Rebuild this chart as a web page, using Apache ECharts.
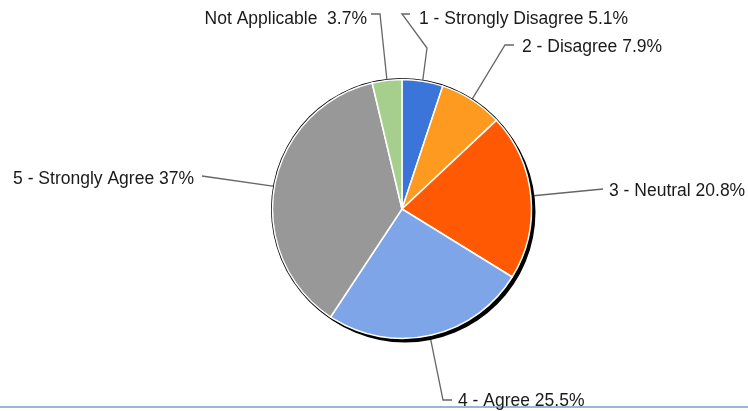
<!DOCTYPE html>
<html>
<head>
<meta charset="utf-8">
<script src="https://cdn.jsdelivr.net/npm/echarts@6/dist/echarts.min.js"></script>
<style>
  html, body { margin: 0; padding: 0; background: #fff; }
  #main { width: 748px; height: 411px; }
</style>
</head>
<body>
<div id="main"></div>
<script>
var categories = ['1 - Strongly Disagree', '2 - Disagree', '3 - Neutral', '4 - Agree', '5 - Strongly Agree', 'Not Applicable '];
var percents = [5.1, 7.9, 20.8, 25.5, 37, 3.7];
var colors = ['#3b75da', '#ff9a20', '#ff5a03', '#7da5e8', '#989898', '#a6cf8e'];

// where each label sits and how its leader line bends (Excel style)
var labelSpots = [
  { x: 419, y: 19, align: 'left', bend: [[427, 48], [402, 14], [410, 14]] },
  { x: 522, y: 47, align: 'left', bend: [[505, 45], [514, 45]] },
  { x: 609, y: 191, align: 'left', bend: [[603, 189]] },
  { x: 458, y: 401, align: 'left', bend: [[443, 400], [452, 400]] },
  { x: 194, y: 179, align: 'right', bend: [[202, 176]] },
  { x: 367, y: 19, align: 'right', bend: [[380, 14], [371, 14]] }
];

var chart = echarts.init(document.getElementById('main'));

var pieData = categories.map(function (name, i) {
  return { name: name, value: percents[i], itemStyle: { color: colors[i] } };
});

var option = {
  animation: false,
  series: [
    {
      // drop shadow under the pie
      type: 'pie',
      silent: true,
      center: [405, 212],
      radius: 130.5,
      label: { show: false },
      labelLine: { show: false },
      itemStyle: { color: '#000' },
      data: [1]
    },
    {
      // thin outline
      type: 'pie',
      silent: true,
      center: [402, 209],
      radius: 131,
      label: { show: false },
      labelLine: { show: false },
      itemStyle: { color: '#000' },
      data: [1]
    },
    {
      type: 'pie',
      center: [402, 209],
      radius: 129.5,
      startAngle: 90,
      clockwise: true,
      avoidLabelOverlap: false,
      itemStyle: { borderColor: '#fff', borderWidth: 1.5 },
      label: {
        show: true,
        position: 'outside',
        formatter: '{b} {c}%',
        fontFamily: 'Liberation Sans',
        fontSize: 17.5,
        color: '#1a1a1a'
      },
      labelLine: {
        show: true,
        length: 20,
        length2: 10,
        lineStyle: { color: '#666', width: 1.3 }
      },
      labelLayout: function (params) {
        var s = labelSpots[params.dataIndex];
        var p0 = params.labelLinePoints ? params.labelLinePoints[0] : null;
        var pts = p0 ? [p0].concat(s.bend) : s.bend;
        return {
          x: s.x,
          y: s.y,
          align: s.align,
          verticalAlign: 'middle',
          labelLinePoints: pts
        };
      },
      data: pieData
    }
  ],
  graphic: [
    {
      type: 'line',
      shape: { x1: 0, y1: 407, x2: 748, y2: 407 },
      style: { stroke: '#9cb5d3', lineWidth: 2 }
    },
    {
      type: 'rect',
      shape: { x: 0, y: 408, width: 748, height: 3 },
      style: { fill: '#fff' }
    }
  ]
};

chart.setOption(option);
</script>
</body>
</html>
